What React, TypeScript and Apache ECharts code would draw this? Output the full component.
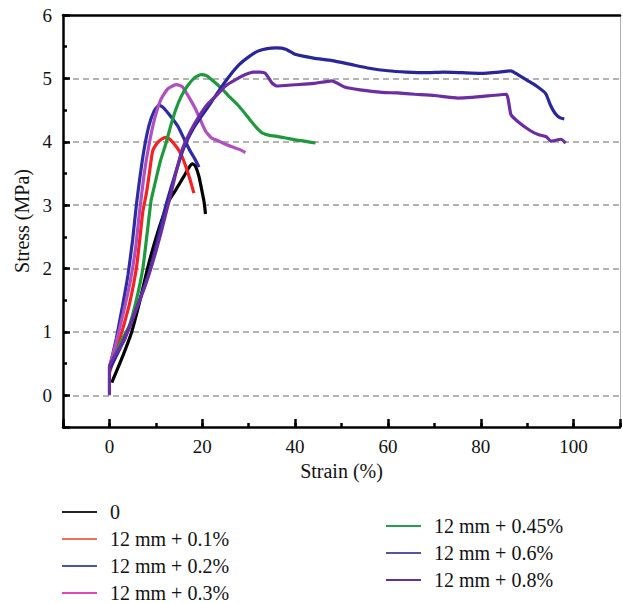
import React, { useEffect, useRef } from "react";
import * as echarts from "echarts";

const seriesNames = [
  "0",
  "12 mm + 0.1%",
  "12 mm + 0.2%",
  "12 mm + 0.3%",
  "12 mm + 0.45%",
  "12 mm + 0.6%",
  "12 mm + 0.8%",
];

const lineColors = ["#000000", "#f52222", "#2c2ca6", "#b04ec2", "#1e9a3c", "#27279a", "#6c2ca4"];
const legendColors = ["#222222", "#f07058", "#4a55a0", "#e048b4", "#20a050", "#5055a8", "#6030a0"];

const xTickLabels = ["0", "20", "40", "60", "80", "100"];
const yTickLabels = ["0", "1", "2", "3", "4", "5", "6"];

// [strain %, stress MPa]
const s0: number[][] = [
  [0.5, 0.2], [2.5, 0.55], [4.8, 1.0], [6.6, 1.5], [8.2, 2.0], [9.7, 2.4], [11.2, 2.75],
  [12.9, 3.08], [14.3, 3.24], [16.0, 3.45], [17.2, 3.6], [17.9, 3.65], [18.5, 3.62],
  [19.3, 3.45], [20.0, 3.2], [20.4, 3.05], [20.7, 2.86],
];
const s01: number[][] = [
  [0, 0.35], [1.5, 0.72], [3.0, 1.08], [4.5, 1.5], [5.8, 2.0], [6.6, 2.5], [7.2, 2.9],
  [8.0, 3.2], [8.6, 3.5], [9.3, 3.85], [10.3, 3.98], [11.2, 4.04], [12.2, 4.07], [13.0, 4.04],
  [14.0, 3.96], [15.0, 3.86], [15.8, 3.74], [16.5, 3.6], [17.3, 3.42], [18.2, 3.19],
];
const s02: number[][] = [
  [0, 0.42], [1.5, 0.9], [2.8, 1.4], [4.0, 1.9], [5.0, 2.45], [5.8, 3.0], [6.5, 3.4],
  [7.4, 3.85], [8.5, 4.25], [9.6, 4.48], [10.7, 4.58], [11.6, 4.54], [13.0, 4.42],
  [14.7, 4.25], [16.0, 4.06], [17.2, 3.88], [18.4, 3.73], [19.3, 3.6],
];
const s03: number[][] = [
  [0, 0.45], [1.5, 0.85], [3.0, 1.3], [4.5, 1.8], [5.6, 2.3], [6.5, 2.9], [7.5, 3.5],
  [8.6, 3.98], [9.8, 4.38], [11.1, 4.67], [12.5, 4.83], [13.6, 4.88], [14.5, 4.9],
  [15.7, 4.87], [17.0, 4.72], [18.6, 4.51], [20.7, 4.17], [22.0, 4.06], [23.6, 4.01],
  [25.0, 3.96], [26.4, 3.92], [28.0, 3.88], [29.3, 3.83],
];
const s045: number[][] = [
  [0, 0.42], [2.2, 0.8], [4.3, 1.1], [5.8, 1.5], [7.2, 2.0], [8.2, 2.6], [9.0, 3.08],
  [10.0, 3.4], [11.0, 3.7], [12.2, 3.98], [13.2, 4.25], [14.3, 4.51], [15.5, 4.72],
  [16.8, 4.88], [18.2, 5.0], [19.7, 5.06], [21.0, 5.04], [22.5, 4.95], [24.3, 4.83],
  [26.0, 4.7], [27.9, 4.56], [29.5, 4.42], [30.8, 4.3], [32.0, 4.2], [32.9, 4.14],
  [34.5, 4.1], [35.8, 4.09], [38.0, 4.06], [40.0, 4.03], [42.0, 4.01], [44.4, 3.98],
];
const s06: number[][] = [
  [0, 0.4], [3.0, 0.85], [6.0, 1.4], [9.0, 2.05], [12.0, 2.95], [14.0, 3.45], [16.0, 3.9],
  [18.0, 4.2], [20.0, 4.42], [22.0, 4.63], [24.0, 4.85], [26.0, 5.05], [28.0, 5.22],
  [30.0, 5.34], [32.0, 5.43], [34.0, 5.47], [36.0, 5.48], [38.0, 5.46], [40.0, 5.38],
  [44.0, 5.32], [48.0, 5.28], [52.0, 5.22], [56.0, 5.16], [60.0, 5.12], [64.0, 5.1],
  [68.0, 5.09], [72.0, 5.1], [76.0, 5.09], [80.0, 5.08], [84.0, 5.1], [86.5, 5.12],
  [88.0, 5.06], [90.0, 4.97], [92.0, 4.88], [94.0, 4.76], [95.0, 4.58], [96.0, 4.45],
  [97.0, 4.38], [98.0, 4.36],
];
const s08: number[][] = [
  [0, 0], [0, 0.45], [1.6, 0.68], [3.2, 0.87], [5.7, 1.34], [7.8, 1.75], [9.7, 2.19],
  [11.3, 2.62], [12.9, 3.08], [14.3, 3.5], [15.7, 3.88], [17.5, 4.17], [19.3, 4.4],
  [21.0, 4.58], [22.9, 4.72], [25.0, 4.88], [27.2, 4.98], [29.3, 5.06], [31.0, 5.1],
  [32.5, 5.1], [33.6, 5.08], [35.0, 4.93], [36.0, 4.88], [40.0, 4.9], [44.0, 4.92],
  [47.9, 4.96], [50.8, 4.86], [54.0, 4.82], [58.7, 4.78], [62.0, 4.77], [65.8, 4.75],
  [70.0, 4.73], [75.1, 4.69], [78.0, 4.7], [80.8, 4.72], [85.5, 4.75], [86.5, 4.43],
  [88.3, 4.3], [90.8, 4.17], [92.5, 4.11], [94.1, 4.08], [95.1, 4.01], [97.3, 4.04],
  [98.3, 3.98],
];

const seriesData = [s0, s01, s02, s03, s045, s06, s08];

const FONT = "'Liberation Serif', 'Times New Roman', serif";

export default function App() {
  const ref = useRef<HTMLDivElement>(null);
  useEffect(() => {
    if (!ref.current) return;
    const chart = echarts.init(ref.current, undefined, { renderer: "svg" });
    const xMin = -10, xMax = 110, yMin = -0.5, yMax = 6;
    const legendItem = (i: number) => ({
      name: seriesNames[i],
      icon: "rect",
      itemStyle: { color: legendColors[i], borderWidth: 0, borderColor: "transparent" },
    });
    const legendCommon = {
      orient: "vertical" as const,
      icon: "rect",
      itemWidth: 35,
      itemHeight: 2,
      itemGap: 7,
      padding: 0,
      height: 140,
      selectedMode: false,
      itemStyle: { borderWidth: 0 },
      textStyle: {
        fontFamily: FONT,
        fontSize: 20,
        lineHeight: 20,
        color: "#111",
        padding: [0, 0, 0, 8],
      },
    };
    chart.setOption({
      animation: false,
      backgroundColor: "#ffffff",
      grid: { left: 63, top: 15, right: 1, bottom: 176, containLabel: false },
      legend: [
        { ...legendCommon, left: 62, top: 502, data: [0, 1, 2, 3].map(legendItem) },
        { ...legendCommon, left: 386, top: 516, data: [4, 5, 6].map(legendItem) },
      ],
      xAxis: [
        {
          type: "value",
          position: "bottom",
          min: xMin,
          max: xMax,
          splitNumber: 6,
          name: "Strain (%)",
          nameLocation: "middle",
          nameGap: 28,
          nameTextStyle: { fontFamily: FONT, fontSize: 20, color: "#111" },
          axisLine: { onZero: false, lineStyle: { color: "#000", width: 2.5 } },
          axisTick: { inside: true, length: 8, lineStyle: { color: "#000", width: 2.5 } },
          axisLabel: {
            fontFamily: FONT,
            fontSize: 19,
            color: "#111",
            margin: 10,
            formatter: (v: number) => {
              const s = String(v);
              return xTickLabels.includes(s) ? s : "";
            },
          },
          splitLine: { show: false },
        },
        {
          type: "value",
          position: "bottom",
          min: xMin,
          max: xMax,
          interval: 10,
          axisLine: { show: false, onZero: false },
          axisTick: { inside: true, length: 4, lineStyle: { color: "#000", width: 2.5 } },
          axisLabel: { show: false },
          splitLine: { show: false },
        },
        {
          type: "value",
          position: "top",
          min: xMin,
          max: xMax,
          axisLine: { onZero: false, lineStyle: { color: "#000", width: 2.5 } },
          axisTick: { show: false },
          axisLabel: { show: false },
          splitLine: { show: false },
        },
      ],
      yAxis: [
        {
          type: "value",
          position: "left",
          min: yMin,
          max: yMax,
          splitNumber: 6,
          name: "Stress (MPa)",
          nameLocation: "middle",
          nameGap: 27,
          nameTextStyle: { fontFamily: FONT, fontSize: 20, color: "#111" },
          axisLine: { onZero: false, lineStyle: { color: "#000", width: 2.5 } },
          axisTick: { inside: true, length: 7, lineStyle: { color: "#000", width: 2.5 } },
          axisLabel: {
            fontFamily: FONT,
            fontSize: 19,
            color: "#111",
            margin: 11,
            formatter: (v: number) => {
              const s = String(v);
              return yTickLabels.includes(s) ? s : "";
            },
          },
          splitLine: {
            show: true,
            showMinLine: false,
            showMaxLine: false,
            lineStyle: { color: "#9a9a9a", width: 1.5, type: [6, 4] },
          },
        },
        {
          type: "value",
          position: "left",
          min: yMin,
          max: yMax,
          interval: 0.5,
          axisLine: { show: false, onZero: false },
          axisTick: { inside: true, length: 4, lineStyle: { color: "#000", width: 2.5 } },
          axisLabel: { show: false },
          splitLine: { show: false },
        },
        {
          type: "value",
          position: "right",
          min: yMin,
          max: yMax,
          axisLine: { onZero: false, lineStyle: { color: "#b0b0b0", width: 1 } },
          axisTick: { show: false },
          axisLabel: { show: false },
          splitLine: { show: false },
        },
      ],
      series: seriesData.map((d, i) => ({
        name: seriesNames[i],
        type: "line",
        xAxisIndex: 0,
        yAxisIndex: 0,
        data: d,
        showSymbol: false,
        symbol: "none",
        smooth: 0.15,
        lineStyle: { color: lineColors[i], width: 3.2 },
        itemStyle: { color: lineColors[i] },
      })),
    });
    return () => chart.dispose();
  }, []);
  return <div ref={ref} style={{ width: 623, height: 603, position: "absolute", left: 0, top: 0 }} />;
}
